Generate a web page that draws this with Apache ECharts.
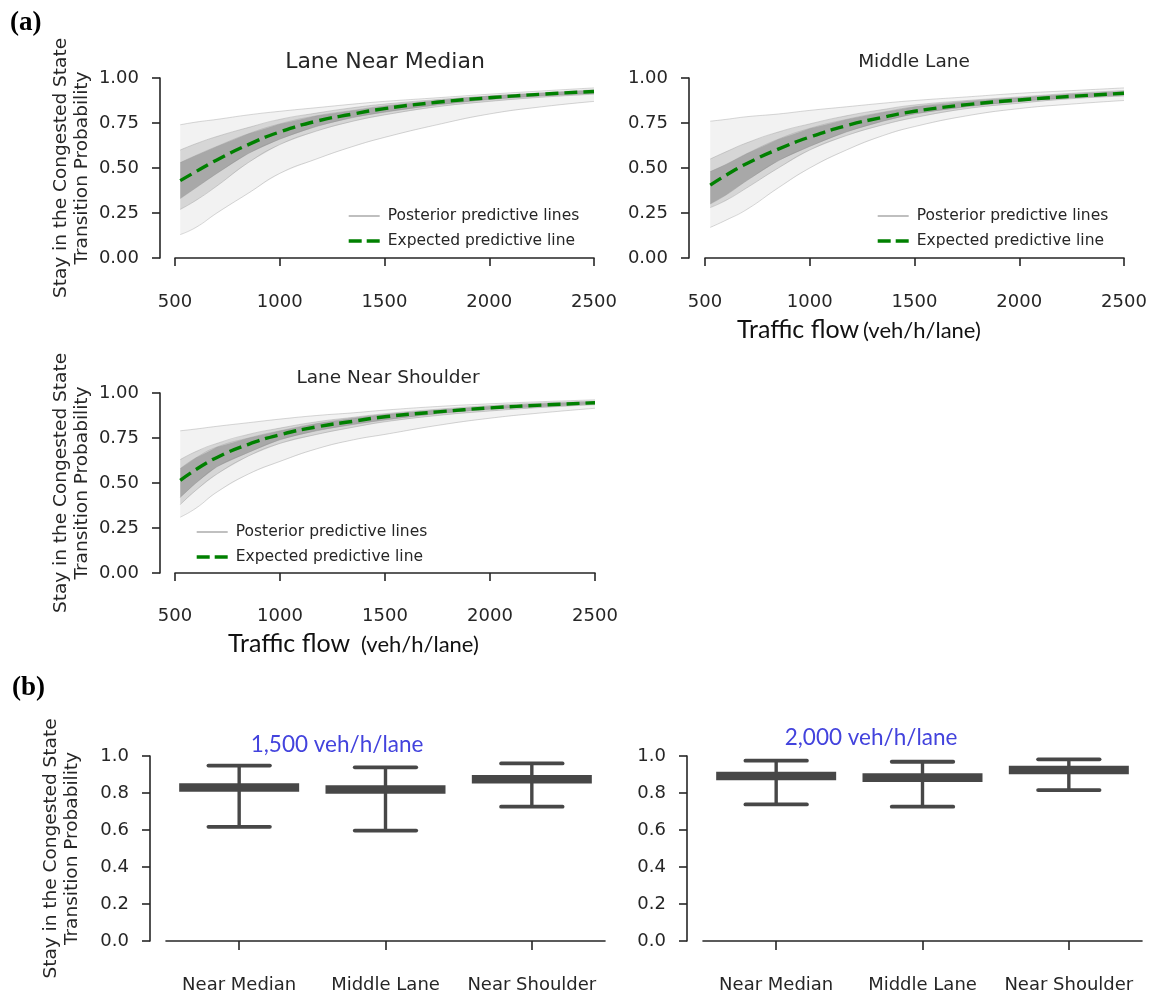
<!DOCTYPE html>
<html><head><meta charset="utf-8">
<script src="https://cdn.jsdelivr.net/npm/echarts@6/dist/echarts.min.js"></script>
<style>html,body{margin:0;padding:0;background:#fff}#c{width:1150px;height:996px}</style>
</head><body><div id="c"></div>
<script>
// ---------- data ----------
const flowX = [525, 600, 700, 850, 1000, 1175, 1350, 1500, 1750, 2000, 2250, 2500];

const medianExpected = [0.43, 0.48, 0.545, 0.63, 0.70, 0.76, 0.80, 0.83, 0.865, 0.89, 0.91, 0.925];
const medianOuterHi  = [0.74, 0.755, 0.77, 0.795, 0.815, 0.835, 0.855, 0.87, 0.89, 0.91, 0.928, 0.945];
const medianInnerHi  = [0.60, 0.635, 0.675, 0.725, 0.77, 0.805, 0.835, 0.855, 0.88, 0.90, 0.918, 0.935];
const medianCoreHi   = [0.53, 0.57, 0.62, 0.69, 0.745, 0.79, 0.82, 0.845, 0.875, 0.90, 0.915, 0.93];
const medianCoreLo   = [0.33, 0.39, 0.47, 0.58, 0.66, 0.73, 0.78, 0.81, 0.85, 0.88, 0.90, 0.915];
const medianInnerLo  = [0.27, 0.32, 0.40, 0.53, 0.63, 0.705, 0.76, 0.795, 0.84, 0.87, 0.893, 0.91];
const medianOuterLo  = [0.13, 0.17, 0.25, 0.36, 0.47, 0.55, 0.62, 0.67, 0.74, 0.80, 0.84, 0.87];

const middleExpected = [0.405, 0.46, 0.525, 0.605, 0.672, 0.735, 0.782, 0.815, 0.852, 0.878, 0.898, 0.915];
const middleOuterHi  = [0.76, 0.77, 0.785, 0.80, 0.82, 0.84, 0.86, 0.875, 0.895, 0.915, 0.93, 0.945];
const middleInnerHi  = [0.55, 0.59, 0.64, 0.70, 0.745, 0.79, 0.825, 0.85, 0.875, 0.895, 0.915, 0.93];
const middleCoreHi   = [0.48, 0.52, 0.58, 0.66, 0.72, 0.77, 0.81, 0.84, 0.87, 0.89, 0.91, 0.925];
const middleCoreLo   = [0.30, 0.35, 0.43, 0.54, 0.62, 0.70, 0.76, 0.80, 0.84, 0.87, 0.89, 0.905];
const middleInnerLo  = [0.28, 0.32, 0.39, 0.50, 0.60, 0.68, 0.74, 0.78, 0.83, 0.86, 0.885, 0.90];
const middleOuterLo  = [0.17, 0.21, 0.27, 0.39, 0.50, 0.60, 0.68, 0.73, 0.79, 0.83, 0.855, 0.875];

const shoulderExpected = [0.515, 0.575, 0.642, 0.715, 0.768, 0.812, 0.843, 0.868, 0.895, 0.917, 0.933, 0.946];
const shoulderOuterHi  = [0.79, 0.80, 0.815, 0.835, 0.855, 0.875, 0.89, 0.905, 0.925, 0.94, 0.952, 0.962];
const shoulderInnerHi  = [0.63, 0.675, 0.72, 0.77, 0.805, 0.84, 0.865, 0.885, 0.91, 0.93, 0.945, 0.955];
const shoulderCoreHi   = [0.58, 0.64, 0.70, 0.75, 0.79, 0.83, 0.86, 0.88, 0.905, 0.925, 0.94, 0.952];
const shoulderCoreLo   = [0.42, 0.50, 0.59, 0.67, 0.74, 0.79, 0.825, 0.85, 0.885, 0.91, 0.925, 0.94];
const shoulderInnerLo  = [0.38, 0.46, 0.55, 0.65, 0.72, 0.77, 0.81, 0.84, 0.875, 0.90, 0.92, 0.935];
const shoulderOuterLo  = [0.31, 0.36, 0.45, 0.55, 0.62, 0.69, 0.74, 0.77, 0.82, 0.86, 0.89, 0.915];

const laneCategories = ['Near Median', 'Middle Lane', 'Near Shoulder'];
const flow1500Mean = [0.830, 0.819, 0.874];
const flow1500Low  = [0.617, 0.597, 0.726];
const flow1500High = [0.948, 0.939, 0.960];
const flow2000Mean = [0.892, 0.883, 0.924];
const flow2000Low  = [0.738, 0.726, 0.816];
const flow2000High = [0.975, 0.969, 0.982];

const panelTitles = ['Lane Near Median', 'Middle Lane', 'Lane Near Shoulder'];
const yTitle = 'Stay in the Congested State\nTransition Probability';
const legendNames = ['Posterior predictive lines', 'Expected predictive line'];
const annotations = ['1,500 veh/h/lane', '2,000 veh/h/lane'];

// ---------- build ----------
const INK = '#262626';
const FONT = '"DejaVu Sans", sans-serif';
const zip = (xs, ys) => xs.map((x, i) => [x, ys[i]]);

const panels = [
  {exp: medianExpected, oh: medianOuterHi, ih: medianInnerHi, ch: medianCoreHi, cl: medianCoreLo, il: medianInnerLo, ol: medianOuterLo},
  {exp: middleExpected, oh: middleOuterHi, ih: middleInnerHi, ch: middleCoreHi, cl: middleCoreLo, il: middleInnerLo, ol: middleOuterLo},
  {exp: shoulderExpected, oh: shoulderOuterHi, ih: shoulderInnerHi, ch: shoulderCoreHi, cl: shoulderCoreLo, il: shoulderInnerLo, ol: shoulderOuterLo}
];

const grids = [
  {left: 175, top: 78, width: 419, height: 180},
  {left: 705, top: 78, width: 419, height: 180},
  {left: 175, top: 393, width: 420, height: 180},
  {left: 166, top: 756, width: 439, height: 185},
  {left: 703, top: 756, width: 439, height: 185}
];

const axisLine = {show: true, lineStyle: {color: INK, width: 1.6}};
const axisTick = {show: true, length: 8, lineStyle: {color: INK, width: 1.6}};

const xAxes = [], yAxes = [];
[0, 1, 2].forEach(i => {
  xAxes.push({type: 'value', gridIndex: i, min: 500, max: 2500, interval: 500,
    offset: i === 2 ? 15 : 16, axisLine, axisTick, splitLine: {show: false},
    axisLabel: {fontSize: 18, color: INK, fontFamily: FONT, margin: 19, formatter: v => String(v)}});
  yAxes.push({type: 'value', gridIndex: i, min: 0, max: 1, interval: 0.25,
    offset: i === 1 ? 16 : 15, axisLine, axisTick, splitLine: {show: false},
    axisLabel: {fontSize: 18, color: INK, fontFamily: FONT, margin: 21, formatter: v => v.toFixed(2)},
    name: i === 1 ? '' : yTitle, nameLocation: 'middle', nameGap: 67, nameRotate: 90,
    nameTextStyle: {fontSize: 18.5, lineHeight: 21, color: INK, fontFamily: FONT}});
});
[3, 4].forEach(i => {
  xAxes.push({type: 'category', gridIndex: i, data: laneCategories, offset: 16,
    axisLine, axisTick: {show: true, alignWithLabel: true, length: 9, lineStyle: {color: INK, width: 1.6}},
    axisLabel: {interval: 0, fontSize: 18, color: INK, fontFamily: FONT, margin: 19}});
  yAxes.push({type: 'value', gridIndex: i, min: 0, max: 1, interval: 0.2, offset: 16,
    axisLine, axisTick, splitLine: {show: false},
    axisLabel: {fontSize: 18, color: INK, fontFamily: FONT, margin: 21, formatter: v => v.toFixed(1)},
    name: i === 3 ? yTitle : '', nameLocation: 'middle', nameGap: 67, nameRotate: 90,
    nameTextStyle: {fontSize: 18.5, lineHeight: 21, color: INK, fontFamily: FONT}});
});

function band(idx, lo, hi, fill) {
  return {type: 'custom', xAxisIndex: idx, yAxisIndex: idx, silent: true, z: 1,
    data: [[flowX[0], lo[0]]],
    renderItem: (params, api) => {
      const pts = [];
      flowX.forEach((x, k) => pts.push(api.coord([x, hi[k]])));
      for (let k = flowX.length - 1; k >= 0; k--) pts.push(api.coord([flowX[k], lo[k]]));
      return {type: 'polygon', shape: {points: pts, smooth: 0}, style: {fill: fill}};
    }};
}

const series = [];
panels.forEach((p, i) => {
  series.push(band(i, p.ol, p.oh, 'rgba(170,170,170,0.15)'));
  series.push(band(i, p.il, p.ih, 'rgba(130,130,130,0.25)'));
  series.push(band(i, p.cl, p.ch, 'rgba(95,95,95,0.38)'));
  [p.oh, p.ih, p.ch, p.cl, p.il, p.ol].forEach(arr => {
    series.push({type: 'line', name: legendNames[0], xAxisIndex: i, yAxisIndex: i,
      data: zip(flowX, arr), smooth: 0.5, symbol: 'none', silent: true, z: 2,
      itemStyle: {color: '#b0b0b0'},
      lineStyle: {color: '#8c8c8c', width: 1, opacity: 0.35}});
  });
  series.push({type: 'line', name: legendNames[1], xAxisIndex: i, yAxisIndex: i,
    data: zip(flowX, p.exp), smooth: 0.5, symbol: 'none', silent: true, z: 5,
    itemStyle: {color: '#008000'},
    lineStyle: {color: '#008000', width: 3.4, type: [13, 6]}});
});

function whiskers(idx, mean, low, high) {
  return {type: 'custom', xAxisIndex: idx, yAxisIndex: idx, silent: true, z: 3,
    data: laneCategories.map((c, k) => [k, low[k], high[k], mean[k]]),
    renderItem: (params, api) => {
      const c = api.value(0);
      const bw = api.size([1, 0])[0];
      const pLo = api.coord([c, api.value(1)]);
      const pHi = api.coord([c, api.value(2)]);
      const pMid = api.coord([c, api.value(3)]);
      const col = '#474747';
      const capW = bw * 0.21, boxW = bw * 0.41;
      return {type: 'group', children: [
        {type: 'line', shape: {x1: pHi[0], y1: pHi[1], x2: pLo[0], y2: pLo[1]}, style: {stroke: col, lineWidth: 3.4}},
        {type: 'line', shape: {x1: pHi[0] - capW, y1: pHi[1], x2: pHi[0] + capW, y2: pHi[1]}, style: {stroke: col, lineWidth: 3.8, lineCap: 'round'}},
        {type: 'line', shape: {x1: pLo[0] - capW, y1: pLo[1], x2: pLo[0] + capW, y2: pLo[1]}, style: {stroke: col, lineWidth: 3.8, lineCap: 'round'}},
        {type: 'rect', shape: {x: pMid[0] - boxW, y: pMid[1] - 4.3, width: boxW * 2, height: 8.6}, style: {fill: col}}
      ]};
    }};
}
series.push(whiskers(3, flow1500Mean, flow1500Low, flow1500High));
series.push(whiskers(4, flow2000Mean, flow2000Low, flow2000High));

const legendData = [
  {name: legendNames[0], itemStyle: {opacity: 0}, lineStyle: {color: '#b0b0b0', width: 1.6, opacity: 1}},
  {name: legendNames[1], itemStyle: {opacity: 0}, lineStyle: {color: '#008000', width: 3.4, type: [13, 5], opacity: 1}}
];
const legendBase = {orient: 'vertical', data: legendData, itemWidth: 31, itemHeight: 14, itemGap: 9,
  selectedMode: false, itemStyle: {opacity: 0},
  textStyle: {fontSize: 15.5, color: INK, fontFamily: FONT, lineHeight: 14, padding: [0, 0, 0, 3]}};
const legends = [
  {...legendBase, left: 342, top: 203},
  {...legendBase, left: 871, top: 203},
  {...legendBase, left: 190, top: 519}
];

function txt(x, y, text, size, opts) {
  return Object.assign({type: 'text', x: x, y: y, silent: true,
    style: Object.assign({text: text, fontSize: size, fontFamily: FONT, fill: INK, align: 'center', verticalAlign: 'middle'}, opts || {})});
}
const LATO = 'Lato, "Open Sans", sans-serif';
const graphics = [
  txt(385, 62, panelTitles[0], 22),
  txt(914, 62, panelTitles[1], 18.5),
  txt(388, 378, panelTitles[2], 18.5),
  txt(10, 23, '(a)', 27, {fontFamily: '"Liberation Serif", serif', fontWeight: 'bold', fill: '#000', align: 'left'}),
  txt(12, 688, '(b)', 27, {fontFamily: '"Liberation Serif", serif', fontWeight: 'bold', fill: '#000', align: 'left'}),
  txt(737, 330, 'Traffic flow', 25, {fontFamily: LATO, fill: '#111', align: 'left'}),
  txt(863, 331, '(veh/h/lane)', 22, {fontFamily: LATO, fill: '#111', align: 'left'}),
  txt(228, 644, 'Traffic flow', 25, {fontFamily: LATO, fill: '#111', align: 'left'}),
  txt(361, 645, '(veh/h/lane)', 22, {fontFamily: LATO, fill: '#111', align: 'left'}),
  txt(337, 745, annotations[0], 22.5, {fontFamily: LATO, fill: '#4343dd'}),
  txt(871, 738, annotations[1], 22.5, {fontFamily: LATO, fill: '#4343dd'})
];

const chart = echarts.init(document.getElementById('c'), null, {renderer: 'canvas'});
chart.setOption({
  animation: false,
  backgroundColor: '#fff',
  grid: grids,
  xAxis: xAxes,
  yAxis: yAxes,
  legend: legends,
  series: series,
  graphic: graphics
});
</script>
</body></html>
